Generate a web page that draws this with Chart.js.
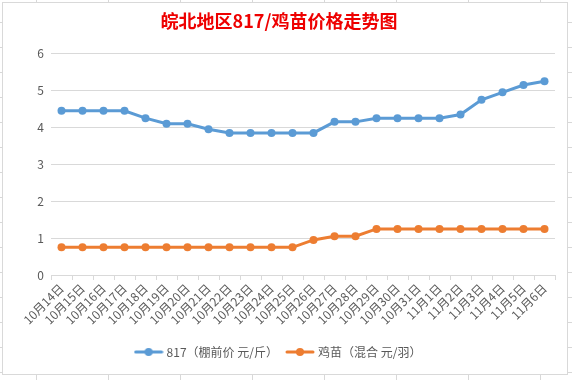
<!DOCTYPE html>
<html><head><meta charset="utf-8">
<script src="https://cdn.jsdelivr.net/npm/chart.js@4/dist/chart.umd.min.js"></script>
<style>
html,body{margin:0;padding:0;}
body{width:572px;height:380px;overflow:hidden;background-color:#fff;
background-image:linear-gradient(to right,#d8d8d8 1px,transparent 1px),linear-gradient(to bottom,#d8d8d8 1px,transparent 1px);
background-size:72px 100%,100% 25px;background-position:36px 0,0 22px;}
#box{position:absolute;left:2px;top:2px;width:564px;height:371px;border:1px solid #d9d9d9;background:#fff;}
canvas{display:block}
</style></head>
<body><div id="box"><canvas id="c" width="564" height="371"></canvas></div>
<script>
const categories = ['10月14日','10月15日','10月16日','10月17日','10月18日','10月19日','10月20日','10月21日','10月22日','10月23日','10月24日','10月25日','10月26日','10月27日','10月28日','10月29日','10月30日','10月31日','11月1日','11月2日','11月3日','11月4日','11月5日','11月6日'];
const price817 = [4.45,4.45,4.45,4.45,4.25,4.1,4.1,3.95,3.85,3.85,3.85,3.85,3.85,4.15,4.15,4.25,4.25,4.25,4.25,4.35,4.75,4.95,5.15,5.25];
const chickPrice = [0.75,0.75,0.75,0.75,0.75,0.75,0.75,0.75,0.75,0.75,0.75,0.75,0.95,1.05,1.05,1.25,1.25,1.25,1.25,1.25,1.25,1.25,1.25,1.25];
const seriesNames = ['817（棚前价 元/斤）','鸡苗（混合 元/羽）'];
const titleText = '皖北地区817/鸡苗价格走势图';
const yTicks = [0,1,2,3,4,5,6];

const BLUE = '#5b9bd5', ORANGE = '#ed7d31';
function legendIcon(color){
  const c = document.createElement('canvas');
  c.width = 30; c.height = 10;
  const g = c.getContext('2d');
  g.strokeStyle = color; g.lineWidth = 3; g.lineCap = 'round';
  g.beginPath(); g.moveTo(2,5); g.lineTo(28,5); g.stroke();
  g.fillStyle = color; g.beginPath(); g.arc(15,5,4,0,Math.PI*2); g.fill();
  return c;
}
const FONT = "'Noto Sans CJK SC','Microsoft YaHei',sans-serif";
new Chart(document.getElementById('c'), {
  type: 'line',
  data: {
    labels: categories,
    datasets: [
      {label: seriesNames[0], data: price817, borderColor: BLUE, backgroundColor: BLUE, borderWidth: 3, pointRadius: 4, pointBorderWidth: 0, pointBackgroundColor: BLUE, pointStyle: 'circle', tension: 0},
      {label: seriesNames[1], data: chickPrice, borderColor: ORANGE, backgroundColor: ORANGE, borderWidth: 3, pointRadius: 4, pointBorderWidth: 0, pointBackgroundColor: ORANGE, pointStyle: 'circle', tension: 0}
    ]
  },
  options: {
    responsive: false,
    animation: false,
    layout: {padding: {left: 0, right: 12, top: 0, bottom: 6}},
    plugins: {
      title: {display: true, text: titleText, color: '#ee0000', font: {family: FONT, size: 18, weight: 'bold'}, padding: {top: 7, bottom: 22}},
      legend: {position: 'bottom', labels: {usePointStyle: true, pointStyleWidth: 24, color: '#595959', font: {family: FONT, size: 12}, padding: 10,
        generateLabels: (chart) => chart.data.datasets.map((d,i) => ({text: d.label, pointStyle: legendIcon(d.borderColor), fillStyle: d.borderColor, strokeStyle: d.borderColor, lineWidth: 0, hidden: false, datasetIndex: i, fontColor: '#595959'}))}},
      tooltip: {enabled: false}
    },
    scales: {
      x: {
        offset: true,
        grid: {display: true, drawOnChartArea: false, drawTicks: true, tickLength: 5, offset: true, color: '#d9d9d9'},
        border: {display: true, color: '#d9d9d9'},
        ticks: {autoSkip: false, maxRotation: 45, minRotation: 45, color: '#595959', font: {family: FONT, size: 12}, padding: 1},
        afterFit: (s) => { s.height = 61; }
      },
      y: {
        min: 0, max: 6,
        afterBuildTicks: (s) => { s.ticks = yTicks.map(v => ({value: v})); },
        grid: {color: '#d9d9d9', drawTicks: false},
        border: {display: false},
        ticks: {color: '#595959', font: {family: FONT, size: 12}, padding: 7},
        afterFit: (s) => { s.width = 48; }
      }
    }
  }
});
</script>
</body></html>
